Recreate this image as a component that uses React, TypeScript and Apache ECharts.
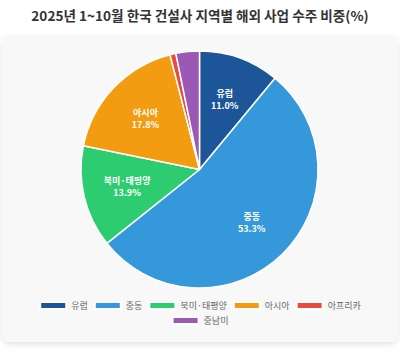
import React, { useEffect, useRef } from "react";
import * as echarts from "echarts";

const titleText = "2025년 1~10월 한국 건설사 지역별 해외 사업 수주 비중(%)";
const regions = ["유럽", "중동", "북미·태평양", "아시아", "아프리카", "중남미"];
const shares = [11.0, 53.3, 13.9, 17.8, 0.8, 3.2];
const colors = ["#1d5599", "#3498db", "#2ecc71", "#f39c12", "#e74c3c", "#9b59b6"];

const FONT = "'Noto Sans CJK KR', 'Noto Sans', sans-serif";

export default function App() {
  const ref = useRef<HTMLDivElement>(null);
  useEffect(() => {
    document.body.style.margin = "0";
    const chart = echarts.init(ref.current!, null, { renderer: "svg" });
    const data = regions.map((name, i) => ({
      name,
      value: shares[i],
      itemStyle: { color: colors[i] },
    }));
    chart.setOption({
      animation: false,
      textStyle: { fontFamily: FONT },
      graphic: [
        {
          type: "rect",
          z: -10,
          shape: { x: 2, y: 36, width: 396, height: 306, r: 8 },
          style: {
            fill: "#f8f8f8",
            shadowBlur: 6,
            shadowOffsetY: 2,
            shadowColor: "rgba(0,0,0,0.12)",
          },
        },
        {
          type: "text",
          x: 200,
          y: 15,
          style: {
            text: titleText,
            fontFamily: FONT,
            fontSize: 13.6,
            fontWeight: "bold",
            fill: "#333",
            align: "center",
            verticalAlign: "middle",
          },
        },
      ],
      legend: [
        {
          data: regions.slice(0, 5),
          left: "center",
          top: 296,
          icon: "rect",
          itemWidth: 26,
          itemHeight: 7,
          itemGap: 6,
          textStyle: { fontSize: 9, color: "#666", fontFamily: FONT },
        },
        {
          data: regions.slice(5),
          left: "center",
          top: 311,
          icon: "rect",
          itemWidth: 26,
          itemHeight: 7,
          itemGap: 6,
          textStyle: { fontSize: 9, color: "#666", fontFamily: FONT },
        },
      ],
      series: [
        {
          type: "pie",
          center: [199.5, 169.5],
          radius: [0, 118.5],
          startAngle: 90,
          clockwise: true,
          avoidLabelOverlap: false,
          itemStyle: { borderColor: "#fff", borderWidth: 1.5 },
          label: { show: false },
          labelLine: { show: false },
          emphasis: { disabled: true },
          data,
        },
        {
          type: "pie",
          center: [199.5, 169.5],
          radius: [25, 118],
          startAngle: 90,
          clockwise: true,
          silent: true,
          avoidLabelOverlap: false,
          itemStyle: { color: "rgba(0,0,0,0)", borderWidth: 0 },
          labelLine: { show: false },
          emphasis: { disabled: true },
          label: {
            show: true,
            position: "inside",
            color: "#fff",
            fontSize: 9,
            fontWeight: "bold",
            lineHeight: 12,
            fontFamily: FONT,
            formatter: (p: any) =>
              p.value >= 5 ? `${p.name}\n${p.value.toFixed(1)}%` : "",
          },
          data: regions.map((name, i) => ({ name, value: shares[i] })),
        },
      ],
    });
    return () => chart.dispose();
  }, []);
  return (
    <div
      ref={ref}
      style={{ position: "absolute", left: 0, top: 0, width: 400, height: 351 }}
    />
  );
}
